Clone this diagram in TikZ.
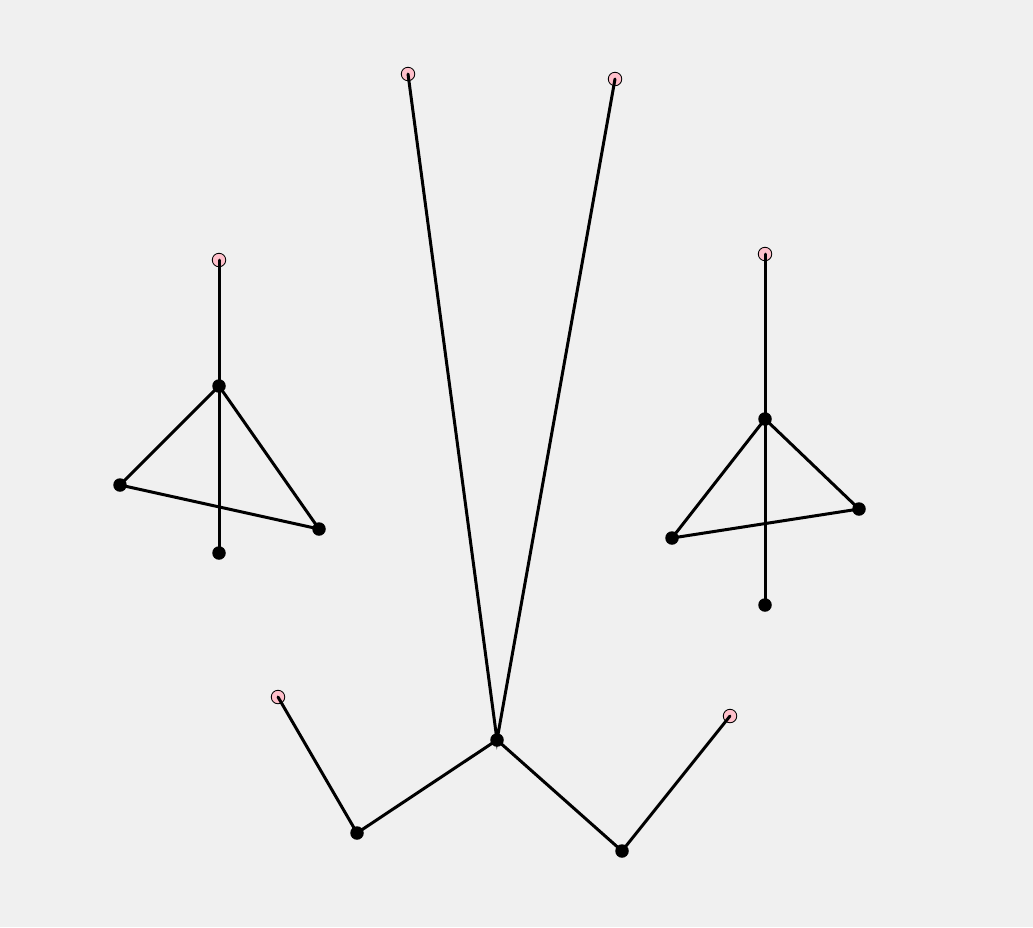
\documentclass[tikz,border=0pt]{standalone}
\definecolor{bgray}{RGB}{240,240,240}
\definecolor{endpink}{RGB}{255,192,203}
\begin{document}
\begin{tikzpicture}[x=0.02cm,y=-0.02cm,
  vert/.style={circle,fill=black,inner sep=0pt,minimum size=0.27cm},
  endv/.style={circle,draw=black,fill=endpink,line width=0.5pt,inner sep=0pt,minimum size=0.27cm},
  bone/.style={line width=0.06cm,line cap=round}]
  \fill[bgray] (0,0) rectangle (1033,927);
  \useasboundingbox (0,0) rectangle (1033,927);
  % the pink end points
  \node[endv] (t1) at (408,74) {};
  \node[endv] (t2) at (615,79) {};
  \node[endv] (lp) at (278,697) {};
  \node[endv] (rp) at (730,716) {};
  \node[endv] (ap) at (219,260) {};
  \node[endv] (bp) at (765,254) {};
  % the middle figure
  \coordinate (c) at (497,740);
  \coordinate (l1) at (357,833);
  \coordinate (r1) at (622,851);
  \draw[bone] (t1.center) -- (c) -- (t2.center);
  \draw[bone] (lp.center) -- (l1) -- (c) -- (r1) -- (rp.center);
  % the left figure
  \coordinate (atop) at (219,386);
  \coordinate (aleft) at (120,485);
  \coordinate (aright) at (319,529);
  \coordinate (abot) at (219,553);
  \draw[bone] (ap.center) -- (atop) -- (abot);
  \draw[bone] (atop) -- (aleft) -- (aright) -- cycle;
  % the right figure
  \coordinate (btop) at (765,419);
  \coordinate (bleft) at (672,538);
  \coordinate (bright) at (859,509);
  \coordinate (bbot) at (765,605);
  \draw[bone] (bp.center) -- (btop) -- (bbot);
  \draw[bone] (btop) -- (bleft) -- (bright) -- cycle;
  % the black joints
  \foreach \p in {c,l1,r1,atop,aleft,aright,abot,btop,bleft,bright,bbot}
    \node[vert] at (\p) {};
\end{tikzpicture}
\end{document}
